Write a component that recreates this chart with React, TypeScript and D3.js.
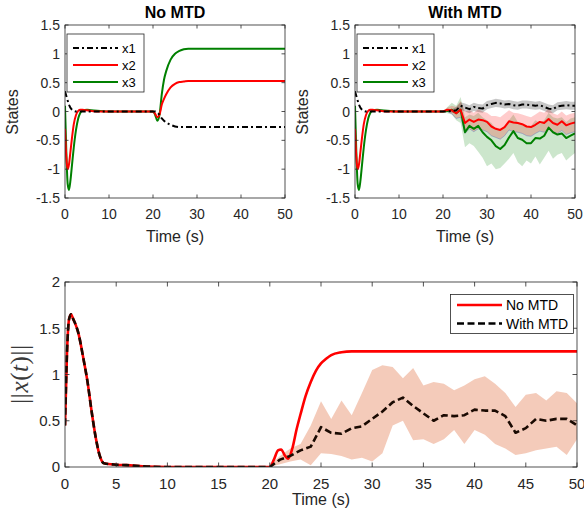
import * as d3 from "d3";
import React from "react";

// shared transient (t <= 20)
const tPre = [0, 0.3, 0.6, 0.9, 1.2, 1.6, 2, 2.5, 3, 3.5, 4, 5, 6, 8, 10, 15, 20];
const x1Pre = [0.35, 0.27, 0.19, 0.12, 0.07, 0.03, 0.01, 0, 0, 0, 0, 0, 0, 0, 0, 0, 0];
const x2Pre = [-0.3, -0.8, -1.0, -0.92, -0.72, -0.45, -0.22, -0.06, 0.01, 0.03, 0.03, 0.02, 0.01, 0, 0, 0, 0];
const x3Pre = [0.1, -0.7, -1.25, -1.36, -1.22, -0.92, -0.62, -0.32, -0.12, -0.02, 0.02, 0.03, 0.02, 0.01, 0, 0, 0];

// no MTD, after the attack at t = 20
const tNo = [20.5, 21, 21.5, 22, 22.5, 23, 24, 25, 26, 27, 28, 30, 35, 40, 45, 50];
const x1No = [0, -0.02, -0.06, -0.12, -0.16, -0.19, -0.23, -0.26, -0.27, -0.27, -0.27, -0.27, -0.27, -0.27, -0.27, -0.27];
const x2No = [-0.04, -0.1, -0.05, 0.12, 0.22, 0.3, 0.42, 0.48, 0.51, 0.52, 0.53, 0.53, 0.53, 0.53, 0.53, 0.53];
const x3No = [-0.06, -0.16, -0.05, 0.3, 0.55, 0.7, 0.9, 1.0, 1.05, 1.08, 1.09, 1.09, 1.09, 1.09, 1.09, 1.09];

// with MTD, t = 20..50
const tMtd = [20, 21, 22, 23, 24, 25, 26, 27, 28, 29, 30, 31, 32, 33, 34, 35, 36, 37, 38, 39, 40, 41, 42, 43, 44, 45, 46, 47, 48, 49, 50];
const x1Mtd = [0, 0, 0.01, 0.02, 0.1, 0.07, 0.04, 0.08, 0.06, 0.05, 0.11, 0.13, 0.15, 0.14, 0.12, 0.13, 0.11, 0.1, 0.12, 0.12, 0.11, 0.1, 0.11, 0.08, 0.05, 0.04, 0.09, 0.1, 0.11, 0.1, 0.1];
const x1Lo = [0, -0.01, -0.02, -0.03, 0.03, 0.0, -0.03, 0.01, -0.01, -0.02, 0.04, 0.06, 0.08, 0.07, 0.05, 0.06, 0.04, 0.03, 0.05, 0.05, 0.04, 0.03, 0.04, 0.01, -0.02, -0.03, 0.02, 0.03, 0.04, 0.03, 0.03];
const x1Hi = [0, 0.01, 0.04, 0.08, 0.16, 0.14, 0.11, 0.15, 0.13, 0.12, 0.18, 0.2, 0.22, 0.21, 0.19, 0.2, 0.18, 0.17, 0.19, 0.19, 0.18, 0.17, 0.18, 0.15, 0.12, 0.11, 0.16, 0.17, 0.18, 0.17, 0.17];
const x2Mtd = [0, 0.03, 0.02, -0.03, 0.03, -0.2, -0.14, -0.18, -0.14, -0.15, -0.18, -0.26, -0.3, -0.32, -0.27, -0.17, -0.19, -0.2, -0.22, -0.26, -0.27, -0.23, -0.18, -0.2, -0.13, -0.2, -0.23, -0.17, -0.24, -0.21, -0.19];
const x2Lo = [0, 0.0, -0.04, -0.12, -0.1, -0.38, -0.3, -0.35, -0.3, -0.32, -0.35, -0.42, -0.45, -0.48, -0.42, -0.32, -0.35, -0.36, -0.38, -0.42, -0.43, -0.38, -0.34, -0.36, -0.3, -0.36, -0.38, -0.33, -0.4, -0.37, -0.35];
const x2Hi = [0, 0.07, 0.1, 0.08, 0.18, 0.0, 0.02, -0.02, 0.04, 0.0, -0.02, -0.08, -0.08, -0.1, -0.04, 0.02, -0.02, -0.03, -0.05, -0.08, -0.1, -0.05, 0.0, -0.02, 0.05, -0.03, -0.06, 0.0, -0.07, -0.04, -0.02];
const x3Mtd = [0, 0.01, 0.03, -0.03, 0.03, -0.36, -0.25, -0.3, -0.25, -0.36, -0.44, -0.5, -0.6, -0.65, -0.58, -0.45, -0.34, -0.46, -0.49, -0.55, -0.55, -0.46, -0.47, -0.42, -0.28, -0.36, -0.4, -0.38, -0.46, -0.42, -0.38];
const x3Lo = [0, -0.03, -0.05, -0.15, -0.2, -0.62, -0.55, -0.6, -0.7, -0.8, -0.95, -0.9, -1.0, -0.98, -0.9, -0.82, -0.72, -0.88, -0.95, -0.85, -0.9, -0.78, -0.92, -0.8, -0.68, -0.82, -0.75, -0.72, -0.85, -0.78, -0.72];
const x3Hi = [0, 0.08, 0.15, 0.1, 0.25, -0.1, -0.05, -0.08, -0.02, -0.1, -0.15, -0.2, -0.3, -0.32, -0.28, -0.15, -0.05, -0.18, -0.22, -0.25, -0.25, -0.15, -0.2, -0.15, -0.02, -0.1, -0.12, -0.1, -0.18, -0.12, -0.1];

// bottom: norm of the state
const tNormPre = [0, 0.2, 0.4, 0.6, 0.8, 1.0, 1.3, 1.8, 2.2, 2.6, 3.0, 3.4, 3.8, 5, 6, 8, 10, 20];
const normPre = [0.45, 1.25, 1.6, 1.65, 1.6, 1.55, 1.45, 1.17, 0.92, 0.6, 0.32, 0.12, 0.04, 0.025, 0.02, 0.005, 0, 0];
const tNormNo = [20.4, 20.8, 21.1, 21.5, 21.8, 22.2, 22.6, 23, 23.5, 24, 24.5, 25, 25.5, 26, 27, 28, 30, 50];
const normNo = [0.08, 0.18, 0.19, 0.12, 0.09, 0.2, 0.4, 0.57, 0.77, 0.92, 1.04, 1.12, 1.17, 1.21, 1.24, 1.25, 1.25, 1.25];
const normMtd = [0, 0.08, 0.12, 0.18, 0.22, 0.43, 0.37, 0.36, 0.42, 0.44, 0.52, 0.6, 0.7, 0.75, 0.66, 0.58, 0.5, 0.56, 0.55, 0.56, 0.62, 0.61, 0.61, 0.55, 0.37, 0.42, 0.52, 0.5, 0.52, 0.52, 0.45];
const normLo = [0, 0.03, 0.06, 0.08, 0.02, 0.15, 0.14, 0.12, 0.08, 0.1, 0.06, 0.15, 0.45, 0.5, 0.29, 0.3, 0.25, 0.3, 0.4, 0.25, 0.4, 0.35, 0.25, 0.2, 0.13, 0.15, 0.18, 0.2, 0.22, 0.13, 0.3];
const normHi = [0.02, 0.12, 0.2, 0.25, 0.45, 0.71, 0.52, 0.72, 0.56, 0.8, 1.05, 1.1, 1.08, 0.96, 1.07, 0.88, 0.92, 0.9, 0.83, 0.88, 0.95, 0.98, 0.9, 0.8, 0.65, 0.78, 0.8, 0.72, 0.82, 0.8, 0.69];

const topYTicks = [-1.5, -1, -0.5, 0, 0.5, 1, 1.5];
const topXTicks = [0, 10, 20, 30, 40, 50];
const botYTicks = [0, 0.5, 1, 1.5, 2];
const botXTicks = [0, 5, 10, 15, 20, 25, 30, 35, 40, 45, 50];
const stateNames = ["x1", "x2", "x3"];
const normNames = ["No MTD", "With MTD"];

const AX = "#262626";
const FONT = "'Liberation Sans', Arial, Helvetica, sans-serif";
const GREEN = "#008000";
const RED = "#ff0000";
const DASHDOT = "6,3,2,3";

type Pt = [number, number];
const zip = (t: number[], v: number[]): Pt[] => t.map((d, i) => [d, v[i]]);

function Frame({ x, y, xTicks, yTicks, tick, fs, xGap, id, children }: any) {
  const [x0, x1] = x.range();
  const [y0, y1] = y.range();
  return (
    <g>
      <rect x={x0} y={y1} width={x1 - x0} height={y0 - y1} fill="#fff" />
      <defs>
        <clipPath id={id}>
          <rect x={x0} y={y1} width={x1 - x0} height={y0 - y1} />
        </clipPath>
      </defs>
      <g clipPath={`url(#${id})`}>{children}</g>
      <rect x={x0} y={y1} width={x1 - x0} height={y0 - y1} fill="none" stroke={AX} strokeWidth={0.8} />
      {xTicks.map((v: number) => (
        <g key={"x" + v}>
          <line x1={x(v)} x2={x(v)} y1={y0} y2={y0 - tick} stroke={AX} strokeWidth={0.8} />
          <line x1={x(v)} x2={x(v)} y1={y1} y2={y1 + tick} stroke={AX} strokeWidth={0.8} />
          <text x={x(v)} y={y0 + xGap} textAnchor="middle" fontSize={fs} fill={AX} fontFamily={FONT}>
            {String(v)}
          </text>
        </g>
      ))}
      {yTicks.map((v: number) => (
        <g key={"y" + v}>
          <line x1={x0} x2={x0 + tick} y1={y(v)} y2={y(v)} stroke={AX} strokeWidth={0.8} />
          <line x1={x1} x2={x1 - tick} y1={y(v)} y2={y(v)} stroke={AX} strokeWidth={0.8} />
          <text x={x0 - 5} y={y(v)} dy="0.36em" textAnchor="end" fontSize={fs} fill={AX} fontFamily={FONT}>
            {String(v)}
          </text>
        </g>
      ))}
    </g>
  );
}

function StatePanel({ left, title, mtd, id }: { left: number; title: string; mtd: boolean; id: string }) {
  const x = d3.scaleLinear().domain([0, 50]).range([left, left + 220]);
  const y = d3.scaleLinear().domain([-1.5, 1.5]).range([198, 25]);
  const smooth = d3.line<Pt>().x((d) => x(d[0])).y((d) => y(d[1])).curve(d3.curveMonotoneX);
  const straight = d3.line<Pt>().x((d) => x(d[0])).y((d) => y(d[1]));
  const area = d3
    .area<[number, number, number]>()
    .x((d) => x(d[0]))
    .y0((d) => y(d[1]))
    .y1((d) => y(d[2]));
  const band = (lo: number[], hi: number[]) => area(tMtd.map((t, i) => [t, lo[i], hi[i]]));

  const pre = [x1Pre, x2Pre, x3Pre].map((v) => zip(tPre, v));
  const colors = ["#000", RED, GREEN];
  const dashes = [DASHDOT, undefined, undefined];

  let paths: string[];
  if (!mtd) {
    paths = [x1No, x2No, x3No].map((v, i) => smooth(pre[i].concat(zip(tNo, v))) as string);
  } else {
    paths = [x1Mtd, x2Mtd, x3Mtd].map(
      (v, i) => (smooth(pre[i]) as string) + (straight(zip(tMtd, v)) as string).replace(/^M/, "L")
    );
  }

  const lx = left + 2;
  return (
    <g>
      <Frame x={x} y={y} xTicks={topXTicks} yTicks={topYTicks} tick={3.5} fs={14} xGap={21} id={id}>
        {mtd && (
          <g>
            <path d={band(x3Lo, x3Hi) as string} fill={GREEN} fillOpacity={0.2} />
            <path d={band(x2Lo, x2Hi) as string} fill={RED} fillOpacity={0.2} />
            <path
              d={straight(zip(tMtd, x2Lo)) as string}
              fill="none"
              stroke="#5a6fc0"
              strokeOpacity={0.6}
              strokeWidth={0.7}
            />
            <path d={band(x1Lo, x1Hi) as string} fill="#000" fillOpacity={0.22} />
          </g>
        )}
        {[2, 1, 0].map((i) => (
          <path
            key={i}
            d={paths[i]}
            fill="none"
            stroke={colors[i]}
            strokeWidth={2}
            strokeDasharray={dashes[i]}
            strokeLinejoin="round"
          />
        ))}
      </Frame>
      <text x={left + 110} y={18} textAnchor="middle" fontSize={16} fontWeight="bold" fill="#000" fontFamily={FONT}>
        {title}
      </text>
      <text x={left + 110} y={242} textAnchor="middle" fontSize={16} fill={AX} fontFamily={FONT}>
        Time (s)
      </text>
      <text
        transform={`translate(${left - 47},112) rotate(-90)`}
        textAnchor="middle"
        fontSize={16}
        fill={AX}
        fontFamily={FONT}
      >
        States
      </text>
      <g>
        <rect x={lx} y={34} width={77} height={58} fill="#fff" stroke={AX} strokeWidth={0.8} />
        {stateNames.map((n, i) => (
          <g key={n}>
            <line
              x1={lx + 6}
              x2={lx + 51}
              y1={48 + i * 17}
              y2={48 + i * 17}
              stroke={colors[i]}
              strokeWidth={2}
              strokeDasharray={dashes[i]}
            />
            <text x={lx + 55} y={48 + i * 17} dy="0.36em" fontSize={13} fill="#000" fontFamily={FONT}>
              {n}
            </text>
          </g>
        ))}
      </g>
    </g>
  );
}

function NormPanel() {
  const x = d3.scaleLinear().domain([0, 50]).range([65, 577]);
  const y = d3.scaleLinear().domain([0, 2]).range([467, 282]);
  const smooth = d3.line<Pt>().x((d) => x(d[0])).y((d) => y(d[1])).curve(d3.curveMonotoneX);
  const straight = d3.line<Pt>().x((d) => x(d[0])).y((d) => y(d[1]));
  const area = d3
    .area<[number, number, number]>()
    .x((d) => x(d[0]))
    .y0((d) => y(d[1]))
    .y1((d) => y(d[2]));
  const pre = zip(tNormPre, normPre);
  const redPath = smooth(pre.concat(zip(tNormNo, normNo))) as string;
  const blackPath = (smooth(pre) as string) + (straight(zip(tMtd, normMtd)) as string).replace(/^M/, "L");
  const bandPath = area(tMtd.map((t, i) => [t, normLo[i], normHi[i]])) as string;

  return (
    <g>
      <Frame x={x} y={y} xTicks={botXTicks} yTicks={botYTicks} tick={4.5} fs={15} xGap={22} id="clip-norm">
        <path d={bandPath} fill="#d95319" fillOpacity={0.3} />
        <path d={redPath} fill="none" stroke={RED} strokeWidth={2.6} strokeLinejoin="round" />
        <path d={blackPath} fill="none" stroke="#1a0a02" strokeWidth={2.6} strokeDasharray="7,3.5" strokeLinejoin="round" />
      </Frame>
      <text x={321} y={505} textAnchor="middle" fontSize={16} fill={AX} fontFamily={FONT}>
        Time (s)
      </text>
      <text
        transform="translate(28,374) rotate(-90)"
        textAnchor="middle"
        fontSize={25}
        fill="#3a3a3a"
        fontFamily="'Liberation Serif', 'DejaVu Serif', serif"
        letterSpacing={0.6}
      >
        <tspan>||</tspan>
        <tspan fontStyle="italic">x</tspan>
        <tspan>(</tspan>
        <tspan fontStyle="italic">t</tspan>
        <tspan>)||</tspan>
      </text>
      <g>
        <rect x={450.5} y={294.5} width={123} height={39} fill="#fff" stroke={AX} strokeWidth={0.8} />
        {normNames.map((n, i) => (
          <g key={n}>
            <line
              x1={457}
              x2={502}
              y1={305 + i * 18.5}
              y2={305 + i * 18.5}
              stroke={i === 0 ? RED : "#000"}
              strokeWidth={2.6}
              strokeDasharray={i === 0 ? undefined : "7,3.5"}
            />
            <text x={506} y={305 + i * 18.5} dy="0.36em" fontSize={14} fill="#000" fontFamily={FONT}>
              {n}
            </text>
          </g>
        ))}
      </g>
    </g>
  );
}

export default function App() {
  return (
    <svg
      width={584}
      height={519}
      viewBox="0 0 584 519"
      style={{ position: "absolute", left: 0, top: 0, display: "block", background: "#fff" }}
    >
      <rect width={584} height={519} fill="#fff" />
      <StatePanel left={65} title="No MTD" mtd={false} id="clip-a" />
      <StatePanel left={355} title="With MTD" mtd={true} id="clip-b" />
      <NormPanel />
    </svg>
  );
}
